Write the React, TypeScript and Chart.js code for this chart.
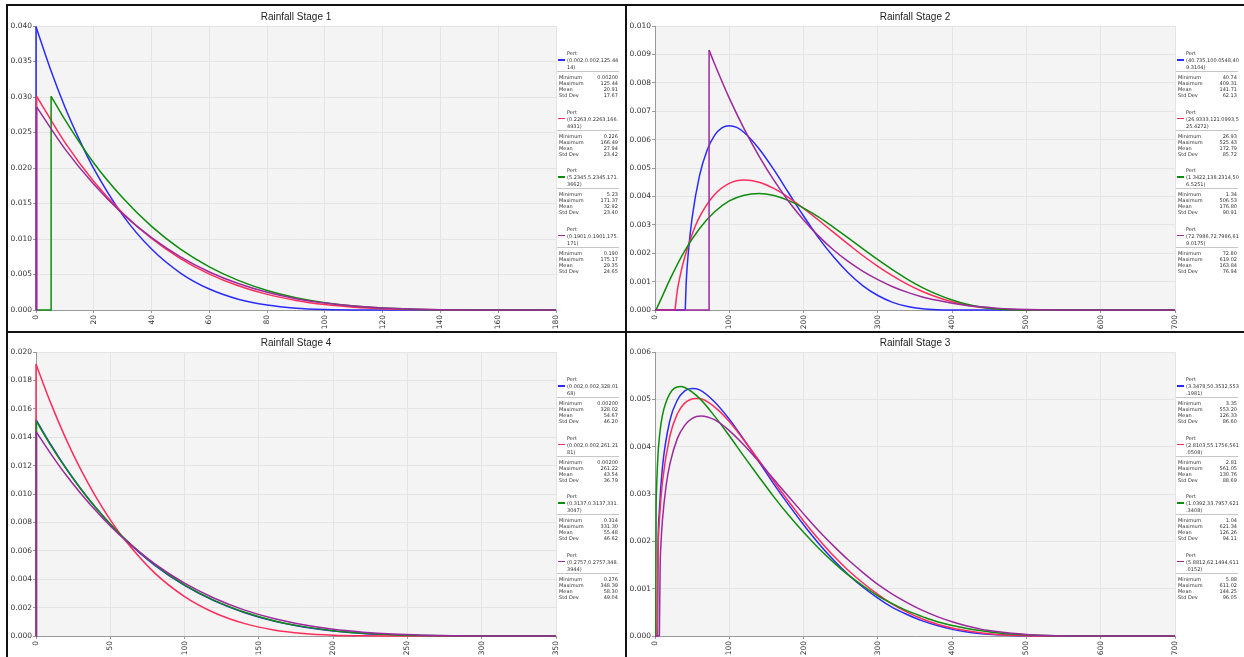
import React, { useEffect, useRef } from "react";
import { Chart, registerables } from "chart.js";
Chart.register(...registerables);

// ---------------- Stage 1 (top-left) ----------------
const S1_X_TICKS = [0, 20, 40, 60, 80, 100, 120, 140, 160, 180];
const S1_Y_TICKS = [0, 0.005, 0.01, 0.015, 0.02, 0.025, 0.03, 0.035, 0.04];
const S1_BLUE_X = [0.002, 5, 10, 15, 20, 30, 40, 50, 60, 70, 80, 90, 100, 110, 125.44];
const S1_BLUE_Y = [0.0399, 0.0339, 0.0286, 0.024, 0.0199, 0.01336, 0.00858, 0.00521, 0.00295, 0.00152, 0.00069, 0.00025, 0.00007, 0.00001, 0];
const S1_RED_X = [0.2263, 10, 20, 30, 40, 50, 60, 70, 80, 90, 100, 110, 120, 130, 140, 150, 166.49];
const S1_RED_Y = [0.0301, 0.0236, 0.0181, 0.01366, 0.01008, 0.00725, 0.00506, 0.00341, 0.0022, 0.00135, 0.00077, 0.0004, 0.00018, 0.00007, 0.00002, 0.000003, 0];
const S1_GREEN_X = [5.2345, 10, 20, 30, 40, 50, 60, 70, 80, 90, 100, 110, 120, 130, 140, 150, 171.37];
const S1_GREEN_Y = [0.0301, 0.0268, 0.0207, 0.0158, 0.01177, 0.00857, 0.00608, 0.00417, 0.00275, 0.00173, 0.00103, 0.00056, 0.00028, 0.00012, 0.00004, 0.00001, 0];
const S1_PURPLE_X = [0.1901, 10, 20, 30, 40, 50, 60, 70, 80, 90, 100, 110, 120, 130, 140, 150, 160, 175.17];
const S1_PURPLE_Y = [0.0286, 0.0227, 0.0177, 0.01354, 0.01018, 0.00748, 0.00536, 0.00373, 0.0025, 0.0016, 0.00097, 0.00055, 0.00028, 0.00013, 0.00005, 0.00001, 0.000002, 0];
const S1_PARAMS = [
  ["(0.002,0.002,125.44", "14)"],
  ["(0.2263,0.2263,166.", "4931)"],
  ["(5.2345,5.2345,171.", "3662)"],
  ["(0.1901,0.1901,175.", "171)"],
];
const S1_STATS = [
  ["0.00200", "125.44", "20.91", "17.67"],
  ["0.226", "166.49", "27.94", "23.42"],
  ["5.23", "171.37", "32.92", "23.40"],
  ["0.190", "175.17", "29.35", "24.65"],
];

// ---------------- Stage 2 (top-right) ----------------
const S2_X_TICKS = [0, 100, 200, 300, 400, 500, 600, 700];
const S2_Y_TICKS = [0, 0.001, 0.002, 0.003, 0.004, 0.005, 0.006, 0.007, 0.008, 0.009, 0.01];
const S2_BLUE_X = [40.735, 42, 45, 50, 60, 70, 80, 90, 100, 110, 120, 140, 160, 180, 200, 220, 240, 260, 280, 300, 320, 340, 360, 380, 409.31];
const S2_BLUE_Y = [0, 0.00097, 0.00206, 0.00325, 0.00474, 0.00562, 0.00614, 0.00641, 0.00649, 0.00643, 0.00625, 0.00568, 0.00494, 0.00412, 0.00331, 0.00255, 0.00188, 0.00131, 0.00085, 0.00051, 0.00027, 0.00012, 0.00004, 0.00001, 0];
const S2_RED_X = [26.9333, 30, 35, 40, 50, 60, 80, 100, 120, 140, 160, 180, 200, 220, 240, 260, 280, 300, 320, 340, 360, 380, 400, 420, 440, 460, 480, 500, 525.43];
const S2_RED_Y = [0, 0.00067, 0.00134, 0.00186, 0.00267, 0.00328, 0.00406, 0.00446, 0.00458, 0.0045, 0.00428, 0.00396, 0.00358, 0.00317, 0.00274, 0.00232, 0.00191, 0.00154, 0.0012, 0.0009, 0.00065, 0.00045, 0.00029, 0.00017, 0.00009, 0.00004, 0.000013, 0.000002, 0];
const S2_GREEN_X = [1.3422, 10, 20, 40, 60, 80, 100, 120, 140, 160, 180, 200, 220, 240, 260, 280, 300, 320, 340, 360, 380, 400, 420, 440, 460, 480, 506.53];
const S2_GREEN_Y = [0, 0.00049, 0.00107, 0.00208, 0.00287, 0.00345, 0.00384, 0.00404, 0.0041, 0.00403, 0.00385, 0.00359, 0.00328, 0.00292, 0.00254, 0.00215, 0.00177, 0.00141, 0.00108, 0.00079, 0.00055, 0.00035, 0.0002, 0.0001, 0.000036, 0.0000075, 0];
const S2_PURPLE_X = [72.7986, 80, 100, 120, 140, 160, 180, 200, 220, 240, 260, 280, 300, 320, 340, 360, 380, 400, 420, 440, 460, 480, 500, 520, 540, 560, 619.02];
const S2_PURPLE_Y = [0.00915, 0.00868, 0.00746, 0.00638, 0.00542, 0.00457, 0.00382, 0.00317, 0.00261, 0.00212, 0.00171, 0.00136, 0.00107, 0.00082, 0.00062, 0.00046, 0.00034, 0.00024, 0.00016, 0.00011, 0.000066, 0.000038, 0.000021, 0.00001, 0.000004, 0.000001, 0];
const S2_PARAMS = [
  ["(40.735,100.0548,40", "9.3104)"],
  ["(26.9333,121.0993,5", "25.4272)"],
  ["(1.3422,138.2314,50", "6.5251)"],
  ["(72.7986,72.7986,61", "9.0175)"],
];
const S2_STATS = [
  ["40.74", "409.31", "141.71", "62.13"],
  ["26.93", "525.43", "172.79", "85.72"],
  ["1.34", "506.53", "176.80", "90.91"],
  ["72.80", "619.02", "163.84", "76.94"],
];

// ---------------- Stage 4 (bottom-left) ----------------
const S4_X_TICKS = [0, 50, 100, 150, 200, 250, 300, 350];
const S4_Y_TICKS = [0, 0.002, 0.004, 0.006, 0.008, 0.01, 0.012, 0.014, 0.016, 0.018, 0.02];
const S4_BLUE_X = [0.002, 10, 20, 30, 40, 50, 60, 80, 100, 120, 140, 160, 180, 200, 220, 240, 260, 280, 300, 328.02];
const S4_BLUE_Y = [0.01524, 0.01347, 0.01185, 0.01039, 0.00906, 0.00787, 0.00679, 0.00498, 0.00356, 0.00247, 0.00165, 0.00105, 0.00063, 0.00035, 0.00018, 0.00008, 0.000028, 0.000007, 0.000001, 0];
const S4_RED_X = [0.002, 10, 20, 30, 40, 50, 60, 80, 100, 120, 140, 160, 180, 200, 220, 240, 261.22];
const S4_RED_Y = [0.01914, 0.01638, 0.01392, 0.01175, 0.00985, 0.00818, 0.00674, 0.00443, 0.00278, 0.00164, 0.00089, 0.00043, 0.00018, 0.00006, 0.000012, 0.000001, 0];
const S4_GREEN_X = [0.3137, 10, 20, 30, 40, 50, 60, 80, 100, 120, 140, 160, 180, 200, 220, 240, 260, 280, 300, 331.3];
const S4_GREEN_Y = [0.01511, 0.01341, 0.01182, 0.01037, 0.00906, 0.00788, 0.00682, 0.00502, 0.0036, 0.00251, 0.00169, 0.00108, 0.00066, 0.00037, 0.00019, 0.00009, 0.000033, 0.000009, 0.000001, 0];
const S4_PURPLE_X = [0.2757, 10, 20, 30, 40, 50, 60, 80, 100, 120, 140, 160, 180, 200, 220, 240, 260, 280, 300, 320, 348.39];
const S4_PURPLE_Y = [0.01436, 0.01283, 0.01137, 0.01005, 0.00885, 0.00775, 0.00677, 0.00508, 0.00372, 0.00266, 0.00184, 0.00123, 0.00079, 0.00047, 0.00027, 0.000135, 0.00006, 0.000021, 0.000005, 0.0000006, 0];
const S4_PARAMS = [
  ["(0.002,0.002,328.01", "68)"],
  ["(0.002,0.002,261.21", "81)"],
  ["(0.3137,0.3137,331.", "3047)"],
  ["(0.2757,0.2757,348.", "3944)"],
];
const S4_STATS = [
  ["0.00200", "328.02", "54.67", "46.20"],
  ["0.00200", "261.22", "43.54", "36.79"],
  ["0.314", "331.30", "55.48", "46.62"],
  ["0.276", "348.39", "58.30", "49.04"],
];

// ---------------- Stage 3 (bottom-right) ----------------
const S3_X_TICKS = [0, 100, 200, 300, 400, 500, 600, 700];
const S3_Y_TICKS = [0, 0.001, 0.002, 0.003, 0.004, 0.005, 0.006];
const S3_BLUE_X = [3.3478, 4, 6, 10, 20, 30, 40, 50, 60, 80, 100, 120, 140, 160, 180, 200, 220, 240, 260, 280, 300, 320, 340, 360, 380, 400, 420, 440, 460, 480, 500, 553.2];
const S3_BLUE_Y = [0, 0.00167, 0.00267, 0.00356, 0.00455, 0.00498, 0.00518, 0.00523, 0.0052, 0.00495, 0.00458, 0.00414, 0.00368, 0.00321, 0.00277, 0.00235, 0.00196, 0.00161, 0.0013, 0.00103, 0.0008, 0.0006, 0.00045, 0.00032, 0.00022, 0.00014, 0.000086, 0.000048, 0.000024, 0.00001, 0.000003, 0];
const S3_RED_X = [2.8103, 4, 6, 10, 20, 30, 40, 55, 60, 80, 100, 120, 140, 160, 180, 200, 220, 240, 260, 280, 300, 320, 340, 360, 380, 400, 420, 440, 460, 480, 500, 561.05];
const S3_RED_Y = [0, 0.00172, 0.00246, 0.00325, 0.00422, 0.00469, 0.00492, 0.00502, 0.00502, 0.00484, 0.00453, 0.00413, 0.00371, 0.00327, 0.00284, 0.00243, 0.00205, 0.0017, 0.00139, 0.00112, 0.00088, 0.00067, 0.0005, 0.00036, 0.00025, 0.00017, 0.00011, 0.000062, 0.000033, 0.000015, 0.0000055, 0];
const S3_GREEN_X = [1.0392, 1.5, 2, 4, 6, 10, 20, 34, 40, 60, 80, 100, 120, 140, 160, 180, 200, 220, 240, 260, 280, 300, 320, 340, 360, 380, 400, 420, 440, 460, 480, 500, 520, 540, 560, 621.34];
const S3_GREEN_Y = [0, 0.00263, 0.00307, 0.00382, 0.00421, 0.00466, 0.00512, 0.00527, 0.00525, 0.00502, 0.00465, 0.00423, 0.00379, 0.00336, 0.00294, 0.00255, 0.00219, 0.00186, 0.00156, 0.00129, 0.00106, 0.00085, 0.00068, 0.00053, 0.00041, 0.0003, 0.00022, 0.00016, 0.00011, 0.000069, 0.000042, 0.000024, 0.000012, 0.0000053, 0.0000018, 0];
const S3_PURPLE_X = [5.8812, 7, 8, 10, 15, 20, 30, 40, 50, 62, 80, 100, 120, 140, 160, 180, 200, 220, 240, 260, 280, 300, 320, 340, 360, 380, 400, 420, 440, 460, 480, 500, 520, 540, 560, 611.02];
const S3_PURPLE_Y = [0, 0.00153, 0.00193, 0.00244, 0.00318, 0.00363, 0.00417, 0.00445, 0.0046, 0.00465, 0.00457, 0.00434, 0.00403, 0.00368, 0.00331, 0.00294, 0.00258, 0.00223, 0.00191, 0.00161, 0.00134, 0.00109, 0.00088, 0.0007, 0.00054, 0.00041, 0.0003, 0.00021, 0.00014, 0.000094, 0.000057, 0.000032, 0.000016, 0.0000065, 0.000002, 0];
const S3_PARAMS = [
  ["(3.3478,50.3532,553", ".1981)"],
  ["(2.8103,55.1756,561", ".0508)"],
  ["(1.0392,33.7957,621", ".3408)"],
  ["(5.8812,62.1494,611", ".0152)"],
];
const S3_STATS = [
  ["3.35", "553.20", "126.33", "86.60"],
  ["2.81", "561.05", "130.76", "88.69"],
  ["1.04", "621.34", "126.26", "94.11"],
  ["5.88", "611.02", "144.25", "96.05"],
];

const STAT_LABELS = ["Minimum", "Maximum", "Mean", "Std Dev"];

// ---------------- styles ----------------
const COLORS = ["#2b2bff", "#ff2d5c", "#0e8c0e", "#9c2a9c"];
const CANVAS_W = 616;
const CANVAS_H = 323;
const AREA_LEFT = 27;
const AREA_RIGHT = 547;
const AREA_TOP = 18;
const AREA_BOTTOM = 302;
const LEGEND_LEFT = 548;

type SeriesDef = { xs: number[]; ys: number[] };

const plotBg = {
  id: "plotBg",
  beforeDraw(chart: any) {
    const { ctx, chartArea } = chart;
    if (!chartArea) return;
    ctx.save();
    ctx.fillStyle = "#f4f4f4";
    ctx.fillRect(chartArea.left, chartArea.top, chartArea.right - chartArea.left, chartArea.bottom - chartArea.top);
    ctx.restore();
  },
};

const txt: React.CSSProperties = {
  position: "absolute",
  fontFamily: "'DejaVu Sans', sans-serif",
  fontSize: 5,
  lineHeight: "6px",
  height: 6,
  color: "#333",
  whiteSpace: "nowrap",
};

function Legend({ params, stats }: { params: string[][]; stats: string[][] }) {
  return (
    <>
      {params.map((p, i) => {
        const base = 45 + i * 58.5;
        return (
          <React.Fragment key={i}>
            <div style={{ ...txt, left: LEGEND_LEFT + 10, top: base - 3 }}>Pert</div>
            <div style={{ position: "absolute", left: LEGEND_LEFT + 1, top: base + 6.25, width: 7, height: 1.5, background: COLORS[i] }} />
            <div style={{ ...txt, left: LEGEND_LEFT + 10, top: base + 4 }}>{p[0]}</div>
            <div style={{ ...txt, left: LEGEND_LEFT + 10, top: base + 11 }}>{p[1]}</div>
            <div style={{ position: "absolute", left: LEGEND_LEFT, top: base + 18, width: 62, height: 1, background: "#c6c6c6" }} />
            {STAT_LABELS.map((lab, j) => (
              <React.Fragment key={j}>
                <div style={{ ...txt, left: LEGEND_LEFT + 2, top: base + 21 + 6 * j }}>{lab}</div>
                <div style={{ ...txt, left: LEGEND_LEFT, width: 61, textAlign: "right", top: base + 21 + 6 * j }}>{stats[i][j]}</div>
              </React.Fragment>
            ))}
          </React.Fragment>
        );
      })}
    </>
  );
}

function Panel(props: {
  left: number;
  top: number;
  title: string;
  xMax: number;
  xTicks: number[];
  yMax: number;
  yTicks: number[];
  series: SeriesDef[];
  params: string[][];
  stats: string[][];
}) {
  const ref = useRef<HTMLCanvasElement>(null);
  const { xMax, xTicks, yMax, yTicks, series } = props;
  useEffect(() => {
    const canvas = ref.current;
    if (!canvas) return;
    const datasets: any[] = [];
    const order = series.map((s, i) => ({ s, color: COLORS[i] })).reverse();
    for (const { s, color } of order) {
      const x0 = s.xs[0];
      const y0 = s.ys[0];
      const xl = s.xs[s.xs.length - 1];
      datasets.push({
        data: s.xs.map((x, i) => ({ x, y: s.ys[i] })),
        borderColor: color,
        borderWidth: 1.5,
        pointRadius: 0,
        cubicInterpolationMode: "monotone",
        fill: false,
        clip: false,
      });
      datasets.push({
        data: [
          { x: 0, y: 0 },
          { x: x0, y: 0 },
          { x: x0, y: y0 },
          { x: x0, y: null },
          { x: xl, y: 0 },
          { x: xMax, y: 0 },
        ],
        borderColor: color,
        borderWidth: 1.5,
        pointRadius: 0,
        tension: 0,
        spanGaps: false,
        fill: false,
        clip: false,
      });
    }
    const tickFont = { family: "'DejaVu Sans', sans-serif", size: 7.5 };
    const chart = new Chart(canvas, {
      type: "line",
      data: { datasets },
      plugins: [plotBg],
      options: {
        animation: false,
        responsive: false,
        maintainAspectRatio: false,
        events: [],
        layout: { padding: { top: AREA_TOP, right: CANVAS_W - AREA_RIGHT, left: 0, bottom: 0 } },
        plugins: { legend: { display: false }, title: { display: false }, tooltip: { enabled: false } },
        scales: {
          x: {
            type: "linear",
            min: 0,
            max: xMax,
            afterBuildTicks: (sc: any) => {
              sc.ticks = xTicks.map((v) => ({ value: v }));
            },
            afterFit: (sc: any) => {
              sc.height = CANVAS_H - AREA_BOTTOM;
            },
            ticks: {
              autoSkip: false,
              minRotation: 90,
              maxRotation: 90,
              padding: 2,
              color: "#333",
              font: tickFont,
              callback: (v: any) => String(v),
            },
            grid: { color: "#e4e4e4", tickLength: 3, tickColor: "#9a9a9a" },
            border: { color: "#9a9a9a" },
          },
          y: {
            type: "linear",
            min: 0,
            max: yMax,
            afterBuildTicks: (sc: any) => {
              sc.ticks = yTicks.map((v) => ({ value: v }));
            },
            afterFit: (sc: any) => {
              sc.width = AREA_LEFT;
            },
            ticks: {
              padding: 1,
              color: "#333",
              font: tickFont,
              callback: (v: any) => Number(v).toFixed(3),
            },
            grid: { color: "#e4e4e4", tickLength: 3, tickColor: "#9a9a9a" },
            border: { color: "#9a9a9a" },
          },
        },
      } as any,
    });
    return () => chart.destroy();
  }, []);
  return (
    <div style={{ position: "absolute", left: props.left, top: props.top, width: CANVAS_W, height: CANVAS_H }}>
      <canvas ref={ref} width={CANVAS_W} height={CANVAS_H} style={{ position: "absolute", left: 0, top: 0, width: CANVAS_W, height: CANVAS_H }} />
      <div
        style={{
          position: "absolute",
          left: AREA_LEFT,
          width: AREA_RIGHT - AREA_LEFT,
          top: 3,
          textAlign: "center",
          fontFamily: "'Liberation Sans', Arial, sans-serif",
          fontSize: 10,
          lineHeight: "12px",
          color: "#222",
        }}
      >
        {props.title}
      </div>
      <Legend params={props.params} stats={props.stats} />
    </div>
  );
}

export default function App() {
  return (
    <div style={{ position: "fixed", left: 0, top: 0, width: 1244, height: 657, background: "#fff", overflow: "hidden" }}>
      <Panel
        left={9}
        top={8}
        title="Rainfall Stage 1"
        xMax={180}
        xTicks={S1_X_TICKS}
        yMax={0.04}
        yTicks={S1_Y_TICKS}
        series={[
          { xs: S1_BLUE_X, ys: S1_BLUE_Y },
          { xs: S1_RED_X, ys: S1_RED_Y },
          { xs: S1_GREEN_X, ys: S1_GREEN_Y },
          { xs: S1_PURPLE_X, ys: S1_PURPLE_Y },
        ]}
        params={S1_PARAMS}
        stats={S1_STATS}
      />
      <Panel
        left={628}
        top={8}
        title="Rainfall Stage 2"
        xMax={700}
        xTicks={S2_X_TICKS}
        yMax={0.01}
        yTicks={S2_Y_TICKS}
        series={[
          { xs: S2_BLUE_X, ys: S2_BLUE_Y },
          { xs: S2_RED_X, ys: S2_RED_Y },
          { xs: S2_GREEN_X, ys: S2_GREEN_Y },
          { xs: S2_PURPLE_X, ys: S2_PURPLE_Y },
        ]}
        params={S2_PARAMS}
        stats={S2_STATS}
      />
      <Panel
        left={9}
        top={334}
        title="Rainfall Stage 4"
        xMax={350}
        xTicks={S4_X_TICKS}
        yMax={0.02}
        yTicks={S4_Y_TICKS}
        series={[
          { xs: S4_BLUE_X, ys: S4_BLUE_Y },
          { xs: S4_RED_X, ys: S4_RED_Y },
          { xs: S4_GREEN_X, ys: S4_GREEN_Y },
          { xs: S4_PURPLE_X, ys: S4_PURPLE_Y },
        ]}
        params={S4_PARAMS}
        stats={S4_STATS}
      />
      <Panel
        left={628}
        top={334}
        title="Rainfall Stage 3"
        xMax={700}
        xTicks={S3_X_TICKS}
        yMax={0.006}
        yTicks={S3_Y_TICKS}
        series={[
          { xs: S3_BLUE_X, ys: S3_BLUE_Y },
          { xs: S3_RED_X, ys: S3_RED_Y },
          { xs: S3_GREEN_X, ys: S3_GREEN_Y },
          { xs: S3_PURPLE_X, ys: S3_PURPLE_Y },
        ]}
        params={S3_PARAMS}
        stats={S3_STATS}
      />
      {/* frame lines */}
      <div style={{ position: "absolute", left: 6, top: 4, width: 1238, height: 2, background: "#111" }} />
      <div style={{ position: "absolute", left: 6, top: 4, width: 2, height: 653, background: "#111" }} />
      <div style={{ position: "absolute", left: 625, top: 4, width: 2, height: 653, background: "#111" }} />
      <div style={{ position: "absolute", left: 6, top: 331, width: 1238, height: 2, background: "#111" }} />
    </div>
  );
}
